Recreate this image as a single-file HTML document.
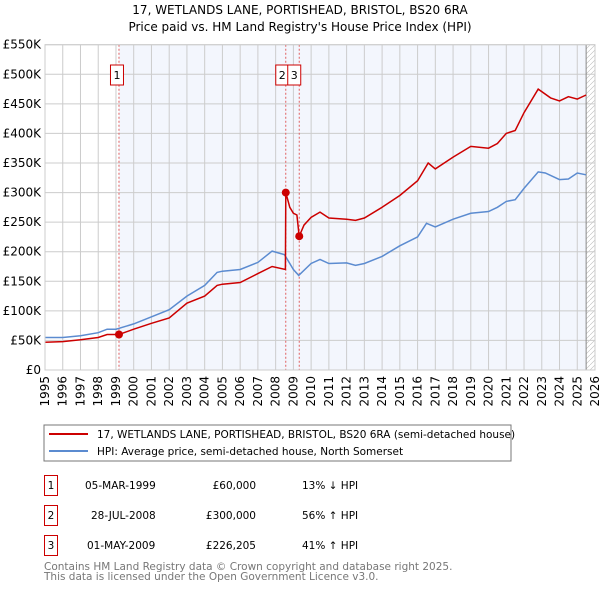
<!DOCTYPE html>
<html><head><meta charset="utf-8"><style>
body{margin:0;background:#fff;width:600px;height:590px;overflow:hidden}
svg text{font-family:"DejaVu Sans","Liberation Sans",sans-serif}
</style></head><body>
<svg id="c" width="600" height="590" xmlns="http://www.w3.org/2000/svg">
<text x="300" y="14" font-size="12" text-anchor="middle">17, WETLANDS LANE, PORTISHEAD, BRISTOL, BS20 6RA</text>
<text x="300" y="31" font-size="12" text-anchor="middle">Price paid vs. HM Land Registry's House Price Index (HPI)</text>
<defs><pattern id="h" width="5" height="5" patternUnits="userSpaceOnUse"><path d="M0 5L5 0" stroke="#bbb" stroke-width="0.6"/></pattern></defs>
<g id="plot"></g>
<rect x="44" y="425" width="467" height="36" fill="#fff" stroke="#777"/>
<line x1="49" y1="434" x2="88" y2="434" stroke="#cc0000" stroke-width="2"/>
<text x="97" y="438" font-size="10.5">17, WETLANDS LANE, PORTISHEAD, BRISTOL, BS20 6RA (semi-detached house)</text>
<line x1="49" y1="451" x2="88" y2="451" stroke="#5b8bd0" stroke-width="2"/>
<text x="97" y="455" font-size="10.5">HPI: Average price, semi-detached house, North Somerset</text>
<g font-size="10.5">
<rect x="44.5" y="475.5" width="13" height="20" fill="none" stroke="#cc0000"/><text x="51" y="489" text-anchor="middle">1</text>
<text x="85" y="489">05-MAR-1999</text><text x="256" y="489" text-anchor="end">£60,000</text><text x="302" y="489">13% ↓ HPI</text>
<rect x="44.5" y="505.5" width="13" height="20" fill="none" stroke="#cc0000"/><text x="51" y="519" text-anchor="middle">2</text>
<text x="91" y="519">28-JUL-2008</text><text x="256" y="519" text-anchor="end">£300,000</text><text x="302" y="519">56% ↑ HPI</text>
<rect x="44.5" y="535.5" width="13" height="20" fill="none" stroke="#cc0000"/><text x="51" y="549" text-anchor="middle">3</text>
<text x="87" y="549">01-MAY-2009</text><text x="256" y="549" text-anchor="end">£226,205</text><text x="302" y="549">41% ↑ HPI</text>
</g>
<text x="44" y="570" font-size="10.5" fill="#777">Contains HM Land Registry data © Crown copyright and database right 2025.</text>
<text x="44" y="580" font-size="10.5" fill="#777">This data is licensed under the Open Government Licence v3.0.</text>
</svg>
<script>
const yTicks=[0,50,100,150,200,250,300,350,400,450,500,550];
const yLabels=["£0","£50K","£100K","£150K","£200K","£250K","£300K","£350K","£400K","£450K","£500K","£550K"];
const xYears=[1995,1996,1997,1998,1999,2000,2001,2002,2003,2004,2005,2006,2007,2008,2009,2010,2011,2012,2013,2014,2015,2016,2017,2018,2019,2020,2021,2022,2023,2024,2025,2026];
const hpiDates=[1995,1996,1997,1998,1998.5,1999,2000,2001,2002,2003,2004,2004.7,2005,2006,2007,2007.8,2008.5,2009,2009.3,2010,2010.5,2011,2012,2012.5,2013,2014,2015,2016,2016.5,2017,2018,2019,2020,2020.5,2021,2021.5,2022,2022.8,2023.2,2024,2024.5,2025,2025.5];
const hpiValues=[55,55,58,63,69,69,78,90,102,125,143,165,167,170,182,201,195,170,160,180,187,180,181,177,180,192,210,225,248,242,255,265,268,275,285,288,307,335,333,322,323,333,330];
const paidDates=[1995,1996,1997,1998,1998.5,1999.17,2000,2001,2002,2003,2004,2004.7,2005,2006,2007,2007.8,2008.55,2008.57,2008.8,2009,2009.2,2009.33,2009.6,2010,2010.5,2011,2012,2012.5,2013,2014,2015,2016,2016.6,2017,2018,2019,2020,2020.5,2021,2021.5,2022,2022.8,2023.5,2024,2024.5,2025,2025.5];
const paidValues=[47,48,51,55,60,60,69,79,88,113,125,143,145,148,163,175,170,300,275,265,262,226,245,258,267,257,255,253,257,275,295,320,350,340,360,378,375,383,400,405,435,475,460,455,462,458,465];
const saleDates=[1999.17,2008.57,2009.33];
const saleValues=[60,300,226.205];
const saleLabels=["1","2","3"];
const NS="http://www.w3.org/2000/svg";
const L=45,R=595,T=44.7,B=370;
const X=y=>L+(y-1995)/31*(R-L);
const Y=v=>B-v/550*(B-T);
const g=document.getElementById('plot');
function mk(t,a){const e=document.createElementNS(NS,t);for(const k in a)e.setAttribute(k,a[k]);g.appendChild(e);return e;}
let e;
e=mk('rect',{x:X(saleDates[0]),y:T,width:X(2025.5)-X(saleDates[0]),height:B-T,fill:'#f3f6fd'});


e=mk('rect',{x:X(2025.5),y:T,width:R-X(2025.5),height:B-T,fill:'url(#h)'});


yTicks.forEach((v,i)=>{
 e=mk('line',{x1:L,x2:R,y1:Y(v),y2:Y(v),stroke:'#ccc'});
 
 
 e=mk('text',{x:L-4,y:Y(v)+4,'font-size':12,'text-anchor':'end'});e.textContent=yLabels[i];
 
 
});
xYears.forEach(yr=>{
 e=mk('line',{x1:X(yr),x2:X(yr),y1:T,y2:B,stroke:'#ccc'});
 
 
 e=mk('text',{x:0,y:0,'font-size':12,'text-anchor':'end',transform:`translate(${X(yr)+4},${B+6}) rotate(-90)`});e.textContent=yr;
 
 
});
e=mk('line',{x1:X(2025.5),x2:X(2025.5),y1:T,y2:B,stroke:'#888'});


saleDates.forEach((d,i)=>{
 e=mk('line',{x1:X(d),x2:X(d),y1:T,y2:B,stroke:'#e06060','stroke-dasharray':'2,2','stroke-width':1});
 
 
});
const pts=(ds,vs)=>ds.map((d,i)=>X(d).toFixed(1)+','+Y(vs[i]).toFixed(1)).join(' ');
e=mk('polyline',{points:pts(hpiDates,hpiValues),fill:'none',stroke:'#5b8bd0','stroke-width':1.5});


e=mk('polyline',{points:pts(paidDates,paidValues),fill:'none',stroke:'#cc0000','stroke-width':1.5});


saleDates.forEach((d,i)=>{
 e=mk('circle',{cx:X(d),cy:Y(saleValues[i]),r:4,fill:'#cc0000'});
 
 
 const bx=i==0?X(d)-8.5:(i==1?X(d)-10:X(d)-11.5);
 e=mk('rect',{x:bx,y:65,width:13,height:20,fill:'#fff',stroke:'#cc0000'});
 
 
 e=mk('text',{x:bx+6.5,y:79,'font-size':11,'text-anchor':'middle'});e.textContent=saleLabels[i];
 
 
});
e=mk('rect',{x:L,y:T,width:R-L,height:B-T,fill:'none',stroke:'#ccc'});


</script>
</body></html>
